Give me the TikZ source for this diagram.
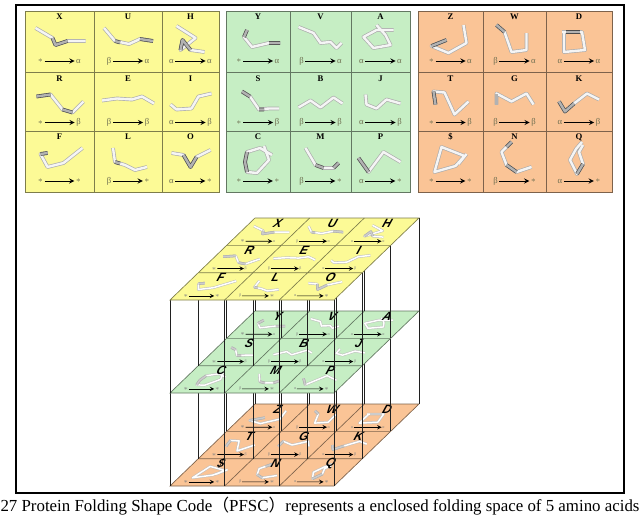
\documentclass[tikz,border=0pt]{standalone}
\usepackage{fontspec}
\setmainfont{Liberation Serif}
\setsansfont{Liberation Sans}
\newfontfamily\cjk{Noto Sans CJK SC}
\usetikzlibrary{arrows}

\definecolor{pfscyellow}{RGB}{252,250,150}
\definecolor{pfscgreen}{RGB}{198,238,196}
\definecolor{pfscorange}{RGB}{250,196,150}
\definecolor{pfscsym}{RGB}{110,110,80}

% fold shapes: tube path and its darker part
\newcommand\defshape[3]{\expandafter\def\csname shp#1\endcsname{#2}%
  \expandafter\def\csname dk#1\endcsname{#3}}
\newcommand\drawshape[3]{\expandafter\let\expandafter\curshp\csname shp#1\endcsname
  \expandafter\let\expandafter\curdk\csname dk#1\endcsname
  \draw[#2] \curshp;
  \ifx\curdk\empty\else\draw[#3] \curdk;\fi}
\newcommand\lsym[1]{\ifcase#1\relax$\ast$\or β\or α\fi}
\newcommand\rsym[1]{\ifcase#1\relax α\or β\or $\ast$\fi}

\defshape{X}{(-24,-12)--(-7,-2)--(-4,5)--(8,1)--(26,1)}{(-7,-2)--(-4,5)--(8,1)}
\defshape{U}{(-24,-12)--(-13,1)--(1,4)--(12,-1)--(25,1)}{(-13,1)--(-8,2.5) (12,-1)--(25,1)}
\defshape{H}{(-14,-14)--(5,-2)--(-10,10)--(-8,0)--(0,10)--(14,12)}{(-10,10)--(-8,0)--(0,10)}
\defshape{R}{(-23,-5)--(-9,-7)--(3,8)--(13,11)--(24,0)}{(-23,-5)--(-9,-7) (3,8)--(13,11)}
\defshape{E}{(-26,-1)--(-11,-3)--(4,-2)--(14,-5)--(26,2)}{}
\defshape{I}{(-20,3)--(-14,8)--(1,7)--(8,-5)--(21,-8)}{}
\defshape{F}{(-12,-7)--(-19,-6)--(-12,7)--(4,3)--(23,-12)}{(-12,-7)--(-19,-6)}
\defshape{L}{(-15,-12)--(-13,2)--(-3,5)--(7,10)--(19,7)}{(-13,2)--(-8,3.5)}
\defshape{O}{(-19,-7)--(-7,-5)--(0,7)--(6,-3)--(20,-10)}{(-7,-5)--(0,7)--(6,-3)}
\defshape{Y}{(-11,-10)--(-14,-3)--(-6,7)--(11,3)--(22,3)}{(-11,-10)--(-14,-3) (11,3)--(22,3)}
\defshape{V}{(-22,-13)--(-7,-7)--(0,3)--(10,2)--(16,8)--(21,3)}{}
\defshape{A}{(-4,-15)--(5,-5)--(10,5)--(-7,8)--(-17,-3)--(-4,-10)--(13,-10)}{}
\defshape{S}{(-16,-10)--(-8,-5)--(1,8)--(11,7)--(21,7)}{(-16,-10)--(-8,-5) (1,8)--(6,8)}
\defshape{B}{(-22,6)--(-10,-1)--(0,6)--(13,-4)--(22,2)}{}
\defshape{J}{(-15,-7)--(-14,3)--(-4,7)--(6,-2)--(20,2)}{}
\defshape{C}{(6,-14)--(11,0)--(-1,13)--(-11,12)--(-13,2)--(-11,-8)--(2,-12)--(14,-5)}{(-11,12)--(-13,2)--(-11,-8)}
\defshape{M}{(-15,-12)--(-5,5)--(3,8)--(13,8)--(18,3)}{(-5,5)--(3,8) (13,8)--(18,3)}
\defshape{P}{(-22,-2)--(-12,12)--(3,-8)--(20,2)}{(-22,-2)--(-12,12)}
\defshape{Z}{(-4,0)--(-19,6)--(-2,13)--(16,3)--(13,-15)}{(-4,0)--(-19,6)}
\defshape{W}{(-18,-15)--(-10,-8)--(-3,12)--(12,10)--(12,-7)}{(-18,-15)--(-10,-8)}
\defshape{D}{(-15,-8)--(-15,12)--(6,10)--(3,-8)--(-17,-8)}{(-13,-8)--(1,-8)}
\defshape{T}{(-15,3)--(-17,-10)--(-6,-9)--(4,13)--(18,0)}{(-15,3)--(-17,-10)}
\defshape{G}{(-18,3)--(-18,-8)--(-3,0)--(12,-8)--(19,3)}{(-18,3)--(-18,-8)}
\defshape{K}{(-20,0)--(-14,10)--(-5,2)--(8,-8)--(20,-2)}{(-20,0)--(-14,10)--(-5,2)}
\defshape{dollar}{(-16,12)--(-9,-13)--(14,-4)--(5,6)--cycle (8,4)--(16,-6)}{}
\defshape{N}{(-3,-18)--(-13,-8)--(-8,5)--(2,12)--(17,7)}{(-3,-18)--(-8,-13) (-8,5)--(2,12)}
\defshape{Q}{(3,-18)--(-3,-11)--(-9,0)--(-2,14)--(4,4)--(0,-8)--(4,-15)}{(-2,14)--(4,4)}

% flat 3x3 panel: colour, column edges, letter/key list
\newcommand\flatpanel[6]{%
  \draw[panel=#1, fill=#1] (#2,11) rectangle (#5,192);
  \draw[panel=#1] (#3,11) -- (#3,192) (#4,11) -- (#4,192)
    (#2,72.5) -- (#5,72.5) (#2,131) -- (#5,131);
  \foreach \lt/\key [count=\idx from 0] in {#6} {
    \pgfmathtruncatemacro\cellc{mod(\idx,3)}
    \pgfmathtruncatemacro\cellr{div(\idx,3)}
    \pgfmathsetmacro\cx{\cellc==0 ? (#2+#3)/2 : (\cellc==1 ? (#3+#4)/2 : (#4+#5)/2)}
    \pgfmathsetmacro\ty{\cellr==0 ? 11 : (\cellr==1 ? 72.5 : 131)}
    \node[flatlabel] (f\key) at (\cx,\ty+6) {\lt};
    \begin{scope}[shift={(\cx,\ty+29)}]
      \drawshape{\key}{tube}{darktube}
    \end{scope}
    \node[sym] (fl\key) at (\cx-19,\ty+50) {\lsym{\cellc}};
    \node[sym] (fr\key) at (\cx+19,\ty+50) {\rsym{\cellr}};
    \draw[->, line width=0.75pt] (fl\key) -- (fr\key);
  }}

% sheared plane of the stack: prefix, colour, top y, letter/key list
\newcommand\planeat[4]{%
  \draw[panel=#2, line width=0.5pt, fill=#2] (#1-0-0) -- (#1-3-0) -- (#1-3-3) -- (#1-0-3) -- cycle;
  \foreach \k in {1,2} {
    \draw[panel=#2, line width=0.5pt] (#1-\k-0) -- (#1-\k-3) (#1-0-\k) -- (#1-3-\k);
  }
  \foreach \lt/\key [count=\idx from 0] in {#4} {
    \pgfmathtruncatemacro\cellc{mod(\idx,3)}
    \pgfmathtruncatemacro\cellr{div(\idx,3)}
    \begin{scope}[shift={(268.17+54.667*\cellc-28.333*\cellr,#3+13.667+27.333*\cellr)},
        cm={0.83,0,0.472,0.455,(0,0)}]
      \drawshape{\key}{faint}{faintdark}
      \node[tinysym] (#1l\key) at (-19,21) {\lsym{\cellc}};
      \node[tinysym] (#1r\key) at (19,21) {\rsym{\cellr}};
      \draw[->, line width=0.5pt] (#1l\key) -- (#1r\key);
      \node[plabel] (#1\key) at (1,-19) {\lt};
    \end{scope}
  }}

\begin{document}
\begin{tikzpicture}[x=0.75pt, y=-0.75pt, >=stealth,
    panel/.style={draw=#1!50!black, line width=0.7pt},
    tube/.style={draw=gray!65, double=gray!8, double distance=1.8pt,
      line width=0.5pt, line join=round},
    darktube/.style={draw=gray!60!black, double=gray!60, double distance=1.8pt,
      line width=0.5pt, line join=round},
    faint/.style={draw=gray!50, double=white, double distance=1.1pt,
      line width=0.4pt, line join=round},
    faintdark/.style={draw=gray!65, double=gray!40, double distance=1.1pt,
      line width=0.4pt, line join=round},
    flatlabel/.style={font=\fontsize{6.5}{7}\selectfont\bfseries, inner sep=0pt},
    sym/.style={font=\fontsize{6.5}{7}\selectfont, text=pfscsym, inner sep=1pt},
    plabel/.style={font=\sffamily\fontsize{9}{10}\selectfont\bfseries\itshape,
      inner sep=0pt, xslant=0.35},
    tinysym/.style={font=\fontsize{3}{3}\selectfont, text=gray, inner sep=0.3pt},
    pillar/.style={draw=gray!25!black, line width=0.35pt}]
  \useasboundingbox (0,0) rectangle (640,521);
  \draw[line width=0.8pt] (16,5) rectangle (624,493);

  % the three code tables
  \flatpanel{pfscyellow}{25}{94}{162}{219}{X/X,U/U,H/H,R/R,E/E,I/I,F/F,L/L,O/O}
  \flatpanel{pfscgreen}{226}{290}{351}{410}{Y/Y,V/V,A/A,S/S,B/B,J/J,C/C,M/M,P/P}
  \flatpanel{pfscorange}{418}{483}{546}{612}{Z/Z,W/W,D/D,T/T,G/G,K/K,\$/dollar,N/N,Q/Q}

  % lattice of the stacked planes
  \foreach \pl/\t in {o/404, g/311, y/218}
    \foreach \i in {0,...,3}
      \foreach \j in {0,...,3}
        \coordinate (\pl-\i-\j) at (255+54.667*\i-28.333*\j, \t+27.333*\j);

  \planeat{o}{pfscorange}{404}{Z/Z,W/W,D/D,T/T,G/G,K/K,\$/dollar,N/N,Q/Q}
  \foreach \i in {0,...,3}
    \foreach \j in {0,...,3}
      \draw[pillar] (g-\i-\j) -- (o-\i-\j);
  \planeat{g}{pfscgreen}{311}{Y/Y,V/V,A/A,S/S,B/B,J/J,C/C,M/M,P/P}
  \foreach \i in {0,...,3}
    \foreach \j in {0,...,3}
      \draw[pillar] (y-\i-\j) -- (g-\i-\j);
  \planeat{y}{pfscyellow}{218}{X/X,U/U,H/H,R/R,E/E,I/I,F/F,L/L,O/O}

  \node[anchor=base, font=\fontsize{12.65}{14}\selectfont] (caption) at (320,511)
    {27 Protein Folding Shape Code{\cjk （}PFSC{\cjk ）}represents a enclosed folding space of 5 amino acids};
\end{tikzpicture}
\end{document}
